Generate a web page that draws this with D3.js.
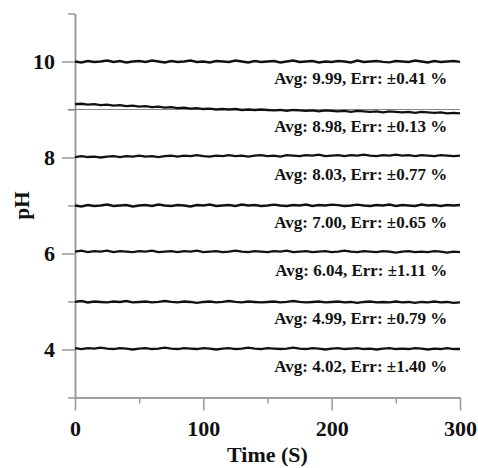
<!DOCTYPE html>
<html>
<head>
<meta charset="utf-8">
<script src="https://cdn.jsdelivr.net/npm/d3@7"></script>
<style>
  body { margin: 0; background: #fff; }
  svg text { font-family: "Liberation Serif", "Times New Roman", serif; font-weight: bold; fill: #111; }
</style>
</head>
<body>
<div id="chart"></div>
<script>
// sampling times (s), every 5 s
const times = [0, 5, 10, 15, 20, 25, 30, 35, 40, 45, 50, 55, 60, 65, 70, 75, 80, 85, 90, 95,
               100, 105, 110, 115, 120, 125, 130, 135, 140, 145, 150, 155, 160, 165, 170, 175, 180, 185, 190, 195,
               200, 205, 210, 215, 220, 225, 230, 235, 240, 245, 250, 255, 260, 265, 270, 275, 280, 285, 290, 295, 300];

// pH readings, one array per buffer
const ph10 = [10.00, 9.98, 10.01, 9.99, 10.00, 10.02, 9.99, 10.01, 9.98, 10.00, 10.01, 9.99, 10.02, 10.00, 9.98, 10.01,
              9.99, 10.00, 10.02, 9.99, 10.00, 9.98, 10.01, 10.00, 9.99, 10.02, 10.00, 9.98, 10.01, 9.99, 10.00,
              10.01, 9.98, 10.00, 10.02, 9.99, 10.00, 10.01, 9.98, 10.00, 9.99, 10.01, 10.00, 9.98, 10.02, 9.99,
              10.00, 10.01, 9.99, 9.98, 10.01, 10.00, 9.99, 10.02, 10.00, 9.98, 10.01, 9.99, 10.00, 10.01, 9.99];
const ph9  = [9.11, 9.12, 9.10, 9.11, 9.09, 9.10, 9.08, 9.09, 9.07, 9.08, 9.06, 9.07, 9.05, 9.06, 9.04, 9.05,
              9.03, 9.04, 9.02, 9.03, 9.01, 9.02, 9.00, 9.01, 9.00, 9.01, 8.99, 9.00, 8.99, 9.00, 8.99,
              8.98, 8.99, 8.97, 8.99, 8.98, 8.97, 8.98, 8.96, 8.98, 8.97, 8.96, 8.97, 8.95, 8.97, 8.96,
              8.95, 8.96, 8.94, 8.96, 8.95, 8.94, 8.95, 8.93, 8.95, 8.94, 8.93, 8.94, 8.92, 8.93, 8.92];
const ph8  = [8.01, 8.03, 8.01, 8.02, 8.00, 8.02, 8.03, 8.01, 8.03, 8.02, 8.04, 8.02, 8.03, 8.01, 8.03, 8.04,
              8.02, 8.04, 8.03, 8.05, 8.03, 8.02, 8.04, 8.03, 8.05, 8.03, 8.04, 8.02, 8.04, 8.05, 8.03,
              8.04, 8.02, 8.05, 8.04, 8.03, 8.05, 8.04, 8.06, 8.03, 8.04, 8.05, 8.03, 8.05, 8.04, 8.06,
              8.04, 8.03, 8.05, 8.04, 8.06, 8.04, 8.05, 8.03, 8.05, 8.04, 8.03, 8.05, 8.04, 8.03, 8.04];
const ph7  = [7.00, 6.98, 7.01, 6.99, 7.00, 7.02, 6.99, 7.00, 7.01, 6.98, 7.00, 7.01, 6.99, 7.02, 7.00, 6.99,
              7.01, 7.00, 6.98, 7.01, 7.00, 7.02, 6.99, 7.00, 7.01, 6.99, 7.02, 7.00, 7.01, 6.99, 7.00,
              7.02, 7.00, 6.99, 7.01, 7.00, 7.02, 6.99, 7.01, 7.00, 7.02, 7.01, 6.99, 7.00, 7.02, 7.00,
              6.99, 7.01, 7.00, 7.02, 6.99, 7.01, 7.00, 6.99, 7.02, 7.00, 7.01, 6.99, 7.01, 7.00, 7.01];
const ph6  = [6.04, 6.06, 6.03, 6.05, 6.04, 6.06, 6.03, 6.05, 6.04, 6.03, 6.05, 6.04, 6.06, 6.03, 6.04, 6.05,
              6.03, 6.05, 6.04, 6.06, 6.03, 6.04, 6.05, 6.03, 6.04, 6.06, 6.04, 6.03, 6.05, 6.04, 6.03,
              6.05, 6.04, 6.06, 6.03, 6.04, 6.05, 6.03, 6.04, 6.05, 6.03, 6.04, 6.06, 6.04, 6.03, 6.05,
              6.04, 6.03, 6.05, 6.04, 6.02, 6.04, 6.05, 6.03, 6.04, 6.03, 6.05, 6.04, 6.02, 6.04, 6.03];
const ph5  = [4.99, 5.01, 4.98, 5.00, 4.99, 4.98, 5.00, 4.99, 5.01, 4.98, 4.99, 5.00, 4.98, 4.99, 5.01, 4.99,
              4.98, 5.00, 4.99, 4.97, 4.99, 5.00, 4.98, 4.99, 5.01, 4.99, 4.98, 5.00, 4.99, 4.98, 4.99,
              5.00, 4.98, 4.99, 5.01, 4.99, 4.98, 4.99, 5.00, 4.98, 4.99, 5.00, 4.98, 4.99, 4.97, 4.99,
              5.00, 4.98, 4.99, 4.98, 5.00, 4.98, 4.99, 4.97, 4.99, 4.98, 5.00, 4.98, 4.99, 4.97, 4.98];
const ph4  = [4.03, 4.01, 4.03, 4.02, 4.04, 4.02, 4.01, 4.03, 4.02, 4.00, 4.02, 4.03, 4.01, 4.02, 4.04, 4.02,
              4.01, 4.03, 4.02, 4.01, 4.03, 4.02, 4.00, 4.02, 4.03, 4.01, 4.02, 4.04, 4.02, 4.01, 4.03,
              4.02, 4.01, 4.02, 4.04, 4.02, 4.01, 4.03, 4.02, 4.00, 4.02, 4.03, 4.01, 4.02, 4.03, 4.01,
              4.02, 4.00, 4.02, 4.03, 4.01, 4.02, 4.01, 4.03, 4.02, 4.00, 4.02, 4.01, 4.03, 4.01, 4.01];

const series = [ph10, ph9, ph8, ph7, ph6, ph5, ph4];

// nominal buffer levels, used to place the annotation under each trace
const levels = [10, 9, 8, 7, 6, 5, 4];
const avgs = ["9.99", "8.98", "8.03", "7.00", "6.04", "4.99", "4.02"];
const errs = ["0.41", "0.13", "0.77", "0.65", "1.11", "0.79", "1.40"];

// reference line drawn across the plot
const refLevel = 9;

// tick values
const yMajor = [4, 6, 8, 10];
const yMinor = [3, 5, 7, 9, 11];
const xMajor = [0, 100, 200, 300];
const xMinor = [50, 150, 250];

const width = 478, height = 468;
const svg = d3.select("#chart").append("svg")
    .attr("width", width)
    .attr("height", height);

const x = d3.scaleLinear().domain([0, 300]).range([75, 460]);
const y = d3.scaleLinear().domain([3, 11]).range([397.5, 13.5]);

const axisColour = "#999";

function styleAxis(g) {
    g.selectAll(".domain").attr("stroke", axisColour).attr("stroke-width", 1.5);
    g.selectAll(".tick line").attr("stroke", axisColour).attr("stroke-width", 1.5);
    g.selectAll(".tick text").attr("fill", "#111")
        .style("font-family", '"Liberation Serif", serif')
        .style("font-weight", "bold")
        .style("font-size", "22px");
}

// minor ticks first so the major axis draws over them
svg.append("g")
    .attr("transform", `translate(${x(0)},0)`)
    .call(d3.axisLeft(y).tickValues(yMinor).tickSize(7).tickSizeOuter(0).tickFormat(""))
    .call(styleAxis);

svg.append("g")
    .attr("transform", `translate(${x(0)},0)`)
    .call(d3.axisLeft(y).tickValues(yMajor).tickSize(13).tickSizeOuter(0).tickPadding(7).tickFormat(d3.format("d")))
    .call(styleAxis);

svg.append("g")
    .attr("transform", `translate(0,${y(3)})`)
    .call(d3.axisBottom(x).tickValues(xMinor).tickSize(6).tickSizeOuter(0).tickFormat(""))
    .call(styleAxis);

svg.append("g")
    .attr("transform", `translate(0,${y(3)})`)
    .call(d3.axisBottom(x).tickValues(xMajor).tickSize(13).tickSizeOuter(0).tickPadding(10).tickFormat(d3.format("d")))
    .call(styleAxis);

// thin reference line at pH 9
svg.append("line")
    .attr("x1", x(0) - 7)
    .attr("x2", x(300))
    .attr("y1", y(refLevel))
    .attr("y2", y(refLevel))
    .attr("stroke", "#888")
    .attr("stroke-width", 1);

// the traces
const line = d3.line()
    .x((d, i) => x(times[i]))
    .y(d => y(d));

svg.selectAll(".trace")
    .data(series)
    .enter()
    .append("path")
    .attr("class", "trace")
    .attr("d", d => line(d))
    .attr("fill", "none")
    .attr("stroke", "#111")
    .attr("stroke-width", 2.3)
    .attr("stroke-linejoin", "miter");

// annotations
svg.selectAll(".note")
    .data(levels)
    .enter()
    .append("text")
    .attr("class", "note")
    .attr("x", x(290))
    .attr("y", d => y(d))
    .attr("dy", 22)
    .attr("text-anchor", "end")
    .style("font-size", "17px")
    .text((d, i) => `Avg: ${avgs[i]}, Err: \u00b1${errs[i]} %`);

// axis titles
svg.append("text")
    .attr("x", (x(0) + x(300)) / 2)
    .attr("y", 462)
    .attr("text-anchor", "middle")
    .style("font-size", "22px")
    .text("Time (S)");

svg.append("text")
    .attr("transform", `translate(29,${(y(3) + y(11)) / 2}) rotate(-90)`)
    .attr("text-anchor", "middle")
    .style("font-size", "21px")
    .text("pH");
</script>
</body>
</html>
